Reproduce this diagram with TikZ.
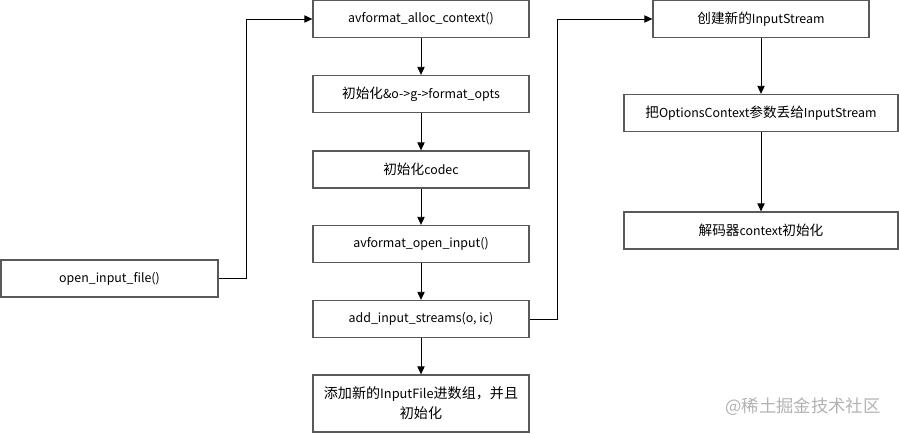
\documentclass[tikz,border=0pt]{standalone}
\usepackage{fontspec}
\setmainfont{Noto Sans CJK SC}
\newfontfamily\zhfont[Scale=1.1]{Noto Sans CJK SC}
\newcommand\zh[1]{{\zhfont #1}}
\usetikzlibrary{arrows.meta}

\begin{document}
\begin{tikzpicture}[x=0.75pt,y=-0.75pt,
    box/.style={draw=black!65,line width=1pt,inner sep=0pt,
        minimum width=162pt,minimum height=27.75pt,align=center,
        font=\fontsize{9.3}{13}\selectfont},
    wide/.style={box,minimum width=205.5pt},
    link/.style={draw=black,line width=0.65pt,-{Triangle[length=6pt,width=5.5pt]}}]
    \useasboundingbox (0,0) rectangle (899,433);
    % left box
    \node[box,minimum width=162.75pt] (open) at (109.5,278.5) {open\_input\_file()};
    % middle column
    \node[box] (alloc) at (421,19) {avformat\_alloc\_context()};
    \node[box] (opts) at (421,94) {\zh{初始化}\&o->g->format\_opts};
    \node[box] (codec) at (421,169.5) {\zh{初始化}codec};
    \node[box] (openin) at (421,244) {avformat\_open\_input()};
    \node[box] (addst) at (421,319) {add\_input\_streams(o, ic)};
    \node[box,minimum height=42.75pt,font=\fontsize{9.6}{15}\selectfont] (addfile) at (421,403.5)
        {\zh{添加新的}InputFile\zh{进数组，并且}\\\zh{初始化}};
    % right column
    \node[box] (newst) at (761,19) {\zh{创建新的}InputStream};
    \node[wide] (give) at (761,113) {\zh{把}OptionsContext\zh{参数丢给}InputStream};
    \node[wide] (dec) at (761,230.5) {\zh{解码器}context\zh{初始化}};
    \node[text=black!30,font=\fontsize{13}{15}\selectfont] (mark) at (803,407) {@稀土掘金技术社区};

    \draw[link] (open.east) -- ++(28,0) |- (alloc.west);
    \draw[link] (addst.east) -- ++(28,0) |- (newst.west);
    \draw[link] (alloc) -- (opts);
    \draw[link] (opts) -- (codec);
    \draw[link] (codec) -- (openin);
    \draw[link] (openin) -- (addst);
    \draw[link] (addst) -- (addfile);
    \draw[link] (newst) -- (give);
    \draw[link] (give) -- (dec);
\end{tikzpicture}
\end{document}
